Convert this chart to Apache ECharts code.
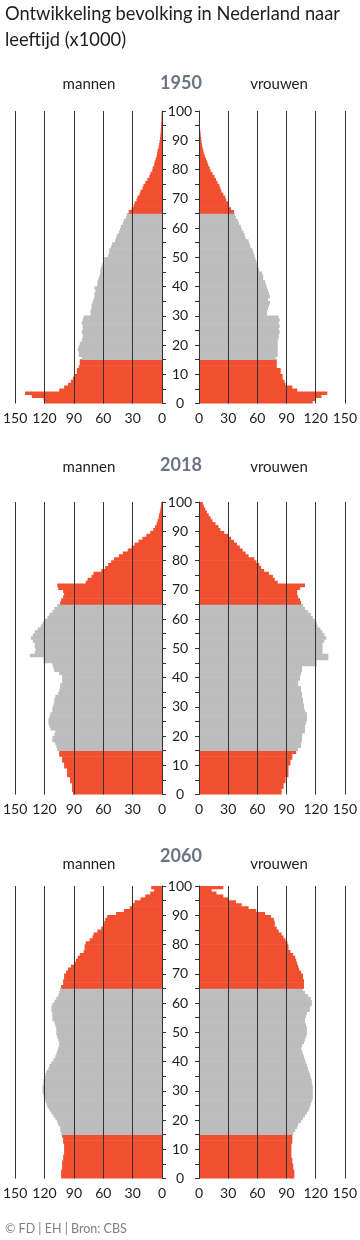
<!DOCTYPE html>
<html><head><meta charset="utf-8">
<script src="https://cdn.jsdelivr.net/npm/echarts@6/dist/echarts.min.js"></script>
<style>html,body{margin:0;padding:0;background:#fff}#c{width:360px;height:1240px}</style>
</head><body><div id="c"></div>
<script>
// Age categories (0 .. 99, the top bar holds the oldest group)
const ages = ['0','1','2','3','4','5','6','7','8','9','10','11','12','13','14','15','16','17','18','19',
'20','21','22','23','24','25','26','27','28','29','30','31','32','33','34','35','36','37','38','39',
'40','41','42','43','44','45','46','47','48','49','50','51','52','53','54','55','56','57','58','59',
'60','61','62','63','64','65','66','67','68','69','70','71','72','73','74','75','76','77','78','79',
'80','81','82','83','84','85','86','87','88','89','90','91','92','93','94','95','96','97','98','99'];
const valueTicks = [0, 30, 60, 90, 120, 150];
const ageTicks = [0, 10, 20, 30, 40, 50, 60, 70, 80, 90, 100];
const years = ['1950', '2018', '2060'];

// population x1000, index = age
const men1950 = [120,121,133,140,105,100,96,93,91,90, 87,87,85,84,84,82,85,85,86,85,
84,82,81,81,82,81,81,82,81,80, 73,73,72,72,71,70,69,69,68,69,
66,66,65,64,63,63,62,61,60,59, 55,54,54,52,51,48,47,46,44,43,
42,40,39,37,36,34,31,29,28,26, 25,23,22,20,19,17,15,13,12,10,
9.5,8,7.5,6.5,5.5,5,4.5,3.5,3,2.5, 2,1.7,1.4,1.2,1,0.8,0.6,0.5,0.4,0.3];
const women1950 = [117,120,126,132,101,96,89,88,86,86, 84,84,80,80,80,79,81,81,81,81,
81,81,82,82,83,82,83,82,83,82, 70,70,71,72,73,71,73,72,71,70,
69,68,66,66,65,62,61,60,59,58, 57,56,55,53,52,51,48,47,46,44,
43,41,40,38,37,36,33,31,30,28, 27,25,23,22,21,19,17.5,16,14,12,
11,9.5,8.5,7.3,6,5,4.3,3.6,3,2.6, 2.3,1.8,1.5,1.2,1,0.8,0.6,0.5,0.4,0.3];
const men2018 = [91,92,92,92,94,94,97,97,97,100, 100,102,102,105,105,107,108,109,112,112,
110,109,114,115,116,116,115,114,112,112, 111,110,110,109,106,105,104,104,102,102,
102,105,110,111,112,121,121,135,130,129, 130,130,132,134,132,130,127,124,122,120,
117,115,112,110,107,104,103,101,100,101, 106,107,78,76,72,70,62,58,55,52,
49,44,40,35,31,28,24,20,16,12, 9,7,5.5,4.5,3.5,3,2.2,1.6,1.1,0.8];
const women2018 = [85,85,87,87,89,89,92,92,92,92, 94,94,96,96,100,102,105,105,106,106,
106,109,109,109,110,111,111,111,109,108, 108,107,107,106,106,105,105,102,102,104,
104,105,106,106,121,121,133,133,127,127, 127,127,129,131,129,127,125,122,121,119,
117,115,112,109,107,105,104,102,101,101, 104,109,81,78,76,72,67,64,62,59,
57,51,48,45,42,39,36,33,30,26, 22,20,17,14,12,10,8,6.5,5,4];
const men2060 = [103,103,103,102,102,102,101,101,100,100, 100,100,101,101,102,103,104,104,106,107,
109,111,113,115,117,118,119,120,121,122, 122,122,121,121,120,119,118,116,115,113,
111,109,108,107,106,105,105,106,107,108, 108,108,109,110,112,112,112,113,113,112,
110,108,106,105,104,103,101,101,100,100, 98,96,93,90,88,86,84,80,79,79,
78,74,71,70,66,62,60,59,58,56, 47,39,33,30,28,22,17,12,8,11];
const women2060 = [98,98,98,97,97,96,96,95,95,95, 95,95,96,96,96,97,99,101,102,105,
107,109,111,113,114,115,116,117,117,117, 117,117,116,116,115,114,113,112,111,110,
109,108,107,106,105,106,108,109,110,111, 111,111,110,109,109,110,111,114,114,116,
116,115,112,109,107,108,108,108,107,107, 105,103,102,101,100,99,97,94,92,92,
91,89,87,85,82,80,78,78,77,74, 68,59,51,44,38,31,25,18,13,25];

const RED = '#f0502f', GRAY = '#bdbdbd', INK = '#1e1e1e', LINE = '#333333', YEARC = '#6b7582';
const FONT = 'Lato, "Open Sans", sans-serif';
const pyramids = [
  {year: years[0], m: men1950, f: women1950, top: 111},
  {year: years[1], m: men2018, f: women2018, top: 502},
  {year: years[2], m: men2060, f: women2060, top: 886}
];
const GH = 292.5;
const colorFor = i => (i < 15 || i >= 65) ? RED : GRAY;
const toItems = arr => arr.map((v, i) => ({value: v, itemStyle: {color: colorFor(i)}}));

const grid = [], xAxis = [], yAxis = [], series = [], graphic = [];
pyramids.forEach((p, k) => {
  [0, 1].forEach(side => {
    const gi = grid.length;
    grid.push(side === 0 ? {left: 12, width: 150, top: p.top, height: GH}
                         : {left: 199, width: 151, top: p.top, height: GH});
    xAxis.push({
      gridIndex: gi, type: 'value', min: valueTicks[0], max: valueTicks[valueTicks.length - 1],
      interval: valueTicks[1] - valueTicks[0], inverse: side === 0, z: 5,
      axisLine: {show: false}, axisTick: {show: false},
      splitLine: {show: true, lineStyle: {color: LINE, width: 1}},
      axisLabel: {color: INK, fontSize: 14, fontFamily: FONT, margin: 8}
    });
    const yc = yAxis.length;
    yAxis.push({gridIndex: gi, type: 'category', data: ages, show: false});
    yAxis.push({
      gridIndex: gi, type: 'value', min: ageTicks[0], max: ageTicks[ageTicks.length - 1], interval: 5,
      position: side === 0 ? 'right' : 'left', z: 6,
      axisLine: {show: true, lineStyle: {color: LINE, width: 1}},
      axisTick: {show: true, length: 4, lineStyle: {color: LINE}},
      splitLine: {show: false},
      axisLabel: side === 0 ? {show: true, margin: 18, align: 'center', color: INK, fontSize: 14, fontFamily: FONT,
        formatter: v => ageTicks.indexOf(v) >= 0 ? String(v) : ''} : {show: false}
    });
    series.push({
      type: 'bar', xAxisIndex: gi, yAxisIndex: yc, data: toItems(side === 0 ? p.m : p.f),
      barWidth: 3.6, barGap: '0%', silent: true
    });
  });
});

const yearY = [83, 465, 856], sexY = [84, 467, 864];
pyramids.forEach((p, k) => {
  graphic.push({type: 'text', x: 181, y: yearY[k], style: {text: p.year, font: 'bold 18px ' + FONT, fill: YEARC, align: 'center', verticalAlign: 'middle'}});
  graphic.push({type: 'text', x: 89, y: sexY[k], style: {text: 'mannen', font: '15px ' + FONT, fill: INK, align: 'center', verticalAlign: 'middle'}});
  graphic.push({type: 'text', x: 279, y: sexY[k], style: {text: 'vrouwen', font: '15px ' + FONT, fill: INK, align: 'center', verticalAlign: 'middle'}});
});
graphic.push({type: 'text', x: 5, y: 14, style: {text: 'Ontwikkeling bevolking in Nederland naar', font: '18.3px ' + FONT, fill: INK, align: 'left', verticalAlign: 'middle'}});
graphic.push({type: 'text', x: 5, y: 40, style: {text: 'leeftijd (x1000)', font: '18.3px ' + FONT, fill: INK, align: 'left', verticalAlign: 'middle'}});
graphic.push({type: 'text', x: 5, y: 1229, style: {text: '© FD | EH | Bron: CBS', font: '12.5px ' + FONT, fill: '#808080', align: 'left', verticalAlign: 'middle'}});

const chart = echarts.init(document.getElementById('c'), null, {renderer: 'canvas'});
chart.setOption({animation: false, backgroundColor: '#fff', grid, xAxis, yAxis, series, graphic});
</script></body></html>
